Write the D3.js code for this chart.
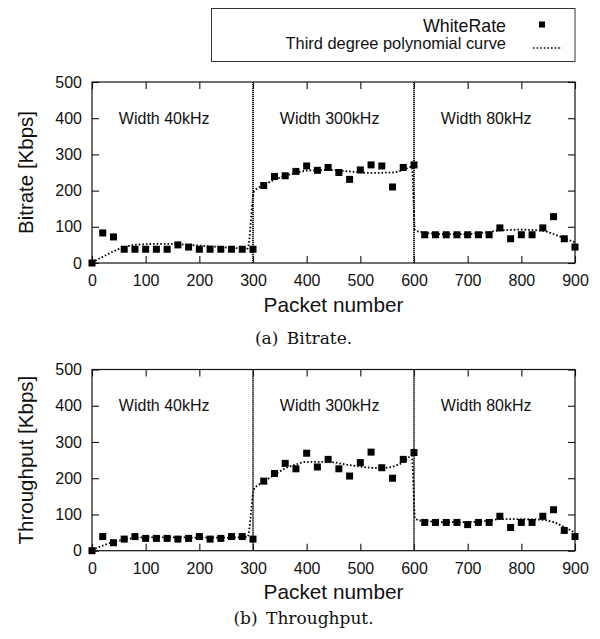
<!DOCTYPE html>
<html>
<head>
<meta charset="utf-8">
<script src="https://cdn.jsdelivr.net/npm/d3@7/dist/d3.min.js"></script>
<style>
    body { margin: 0; background: #fff; }
    svg text { font-family: "Liberation Sans", Arial, sans-serif; fill: #111; }
    svg text.caption { font-family: "DejaVu Serif", serif; }
</style>
</head>
<body>
<div id="chart"></div>
<script>
// packet numbers (x) of the measured points
const packetNumbers = [0, 20, 40, 60, 80, 100, 120, 140, 160, 180, 200, 220, 240, 260, 280, 300,
    320, 340, 360, 380, 400, 420, 440, 460, 480, 500, 520, 540, 560, 580, 600,
    620, 640, 660, 680, 700, 720, 740, 760, 780, 800, 820, 840, 860, 880, 900];

const bitrateValues = [0, 83, 72, 38, 38, 38, 38, 38, 50, 44, 38, 38, 38, 38, 38, 38,
    214, 239, 241, 253, 268, 256, 264, 250, 231, 257, 271, 268, 210, 264, 271,
    78, 78, 78, 78, 78, 78, 78, 97, 67, 78, 78, 97, 128, 67, 44];

const throughputValues = [0, 39, 22, 32, 39, 34, 34, 34, 32, 34, 39, 32, 34, 39, 39, 32,
    192, 213, 241, 226, 269, 231, 252, 226, 206, 243, 272, 229, 200, 252, 271,
    78, 78, 78, 78, 72, 78, 78, 95, 64, 78, 78, 95, 113, 56, 39];

// third degree polynomial curves
const bitrateCurveX = [0, 20, 40, 60, 80, 100, 140, 180, 220, 260, 290,
    302, 320, 340, 360, 380, 400, 440, 480, 520, 560, 580, 596,
    602, 620, 650, 700, 740, 760, 800, 840, 860, 880, 900];
const bitrateCurveY = [2, 17, 32, 44, 50, 52, 53, 50, 46, 42, 40,
    198, 215, 230, 241, 249, 255, 257, 253, 249, 250, 257, 266,
    90, 84, 80, 80, 86, 90, 92, 89, 80, 68, 57];

const throughputCurveX = [0, 20, 40, 60, 80, 100, 150, 200, 250, 290,
    302, 320, 340, 360, 380, 400, 440, 480, 520, 540, 560, 580, 596,
    602, 620, 660, 700, 740, 760, 800, 840, 860, 880, 900];
const throughputCurveY = [2, 14, 24, 31, 35, 37, 37, 36, 36, 38,
    170, 190, 210, 227, 238, 245, 245, 236, 229, 228, 232, 244, 262,
    88, 82, 79, 79, 83, 87, 87, 85, 79, 65, 50];

const bandEdges = [300, 600];
const bandLabels = ["Width 40kHz", "Width 300kHz", "Width 80kHz"];
const bandLabelX = [50, 350, 650];
const bandLabelY = 400;

const xTicks = [0, 100, 200, 300, 400, 500, 600, 700, 800, 900];
const yTicks = [0, 100, 200, 300, 400, 500];

const seriesName = "WhiteRate";
const curveName = "Third degree polynomial curve";

const width = 600, height = 639;
const margin = { left: 92, right: 25 };

const svg = d3.select("#chart").append("svg")
    .attr("width", width)
    .attr("height", height);

svg.append("rect").attr("width", width).attr("height", height).attr("fill", "#fff");

const xScale = d3.scaleLinear().domain([0, 900]).range([margin.left, width - margin.right]);

const Panel = (svg, props) => {
    const { top, plotHeight, values, curveX, curveY, yTitle, caption, captionY } = props;

    const yScale = d3.scaleLinear().domain([0, 500]).range([top + plotHeight, top]);
    const g = svg.append("g");
    const x0 = xScale.range()[0], x1 = xScale.range()[1];

    // ticks on four sides, pointing inward
    g.append("g")
        .attr("transform", `translate(0,${top + plotHeight})`)
        .call(d3.axisBottom(xScale).tickValues(xTicks).tickSize(-7).tickSizeOuter(0).tickPadding(11.5))
        .call(a => a.select(".domain").remove())
        .call(a => a.selectAll("text").attr("font-size", 16).attr("fill", "#111"));
    g.append("g")
        .attr("transform", `translate(0,${top})`)
        .call(d3.axisTop(xScale).tickValues(xTicks).tickSize(-7).tickSizeOuter(0).tickFormat(""))
        .call(a => a.select(".domain").remove());
    g.append("g")
        .attr("transform", `translate(${x0},0)`)
        .call(d3.axisLeft(yScale).tickValues(yTicks).tickSize(-7).tickSizeOuter(0).tickPadding(10))
        .call(a => a.select(".domain").remove())
        .call(a => a.selectAll("text").attr("font-size", 16).attr("fill", "#111"));
    g.append("g")
        .attr("transform", `translate(${x1},0)`)
        .call(d3.axisRight(yScale).tickValues(yTicks).tickSize(-7).tickSizeOuter(0).tickFormat(""))
        .call(a => a.select(".domain").remove());
    g.selectAll(".tick line").attr("stroke", "#111").attr("stroke-width", 1.1);
    g.selectAll(".tick text").attr("font-family", "Liberation Sans, Arial, sans-serif");

    // band separators
    g.selectAll("line.sep")
        .data(bandEdges)
        .join("line")
        .attr("class", "sep")
        .attr("x1", d => xScale(d)).attr("x2", d => xScale(d))
        .attr("y1", top).attr("y2", top + plotHeight)
        .attr("stroke", "#222")
        .attr("stroke-width", 2)
        .attr("stroke-dasharray", "1.2,0.8");

    g.selectAll("text.band")
        .data(bandLabels)
        .join("text")
        .attr("class", "band")
        .attr("x", (d, i) => xScale(bandLabelX[i]))
        .attr("y", yScale(bandLabelY))
        .attr("dy", "0.35em")
        .attr("font-size", 16)
        .text(d => d);

    // fitted curve
    const line = d3.line()
        .x(d => xScale(d[0]))
        .y(d => yScale(d[1]))
        .curve(d3.curveMonotoneX);
    g.append("path")
        .datum(curveX.map((x, i) => [x, curveY[i]]))
        .attr("d", line)
        .attr("fill", "none")
        .attr("stroke", "#000")
        .attr("stroke-width", 1.8)
        .attr("stroke-dasharray", "1.6,2");

    // measured points
    const s = 7;
    g.selectAll("rect.pt")
        .data(values)
        .join("rect")
        .attr("class", "pt")
        .attr("x", (d, i) => xScale(packetNumbers[i]) - s / 2)
        .attr("y", d => yScale(d) - s / 2)
        .attr("width", s)
        .attr("height", s)
        .attr("fill", "#000");

    // frame
    g.append("rect")
        .attr("x", x0).attr("y", top)
        .attr("width", x1 - x0).attr("height", plotHeight)
        .attr("fill", "none")
        .attr("stroke", "#111")
        .attr("stroke-width", 1.2);

    g.append("text")
        .attr("transform", `translate(33,${top + plotHeight / 2}) rotate(-90)`)
        .attr("text-anchor", "middle")
        .attr("font-size", 20.5)
        .text(yTitle);

    g.append("text")
        .attr("x", (x0 + x1) / 2)
        .attr("y", top + plotHeight + 48.7)
        .attr("text-anchor", "middle")
        .attr("font-size", 20.8)
        .text("Packet number");

    g.append("text")
        .attr("class", "caption")
        .attr("x", 303.5)
        .attr("y", captionY)
        .attr("text-anchor", "middle")
        .attr("font-size", 17)
        .text(caption);
};

Panel(svg, {
    top: 82, plotHeight: 181,
    values: bitrateValues, curveX: bitrateCurveX, curveY: bitrateCurveY,
    yTitle: "Bitrate [Kbps]", caption: "(a)\u2002Bitrate.", captionY: 344
});

Panel(svg, {
    top: 369.5, plotHeight: 181.2,
    values: throughputValues, curveX: throughputCurveX, curveY: throughputCurveY,
    yTitle: "Throughput [Kbps]", caption: "(b)\u2002Throughput.", captionY: 624
});

// legend
const legend = svg.append("g");
legend.append("rect")
    .attr("x", 211.5).attr("y", 8.5)
    .attr("width", xScale.range()[1] - 211.5).attr("height", 53)
    .attr("fill", "#fff")
    .attr("stroke", "#333")
    .attr("stroke-width", 1);
legend.append("text")
    .attr("x", 506).attr("y", 31.7)
    .attr("text-anchor", "end")
    .attr("font-size", 17.8)
    .text(seriesName);
legend.append("rect")
    .attr("x", 542 - 3).attr("y", 24.5 - 3)
    .attr("width", 6).attr("height", 6)
    .attr("fill", "#000");
legend.append("text")
    .attr("x", 506).attr("y", 49)
    .attr("text-anchor", "end")
    .attr("font-size", 16.4)
    .text(curveName);
legend.append("line")
    .attr("x1", 533).attr("x2", 562)
    .attr("y1", 48).attr("y2", 48)
    .attr("stroke", "#000")
    .attr("stroke-width", 1.6)
    .attr("stroke-dasharray", "1.6,2");
</script>
</body>
</html>
